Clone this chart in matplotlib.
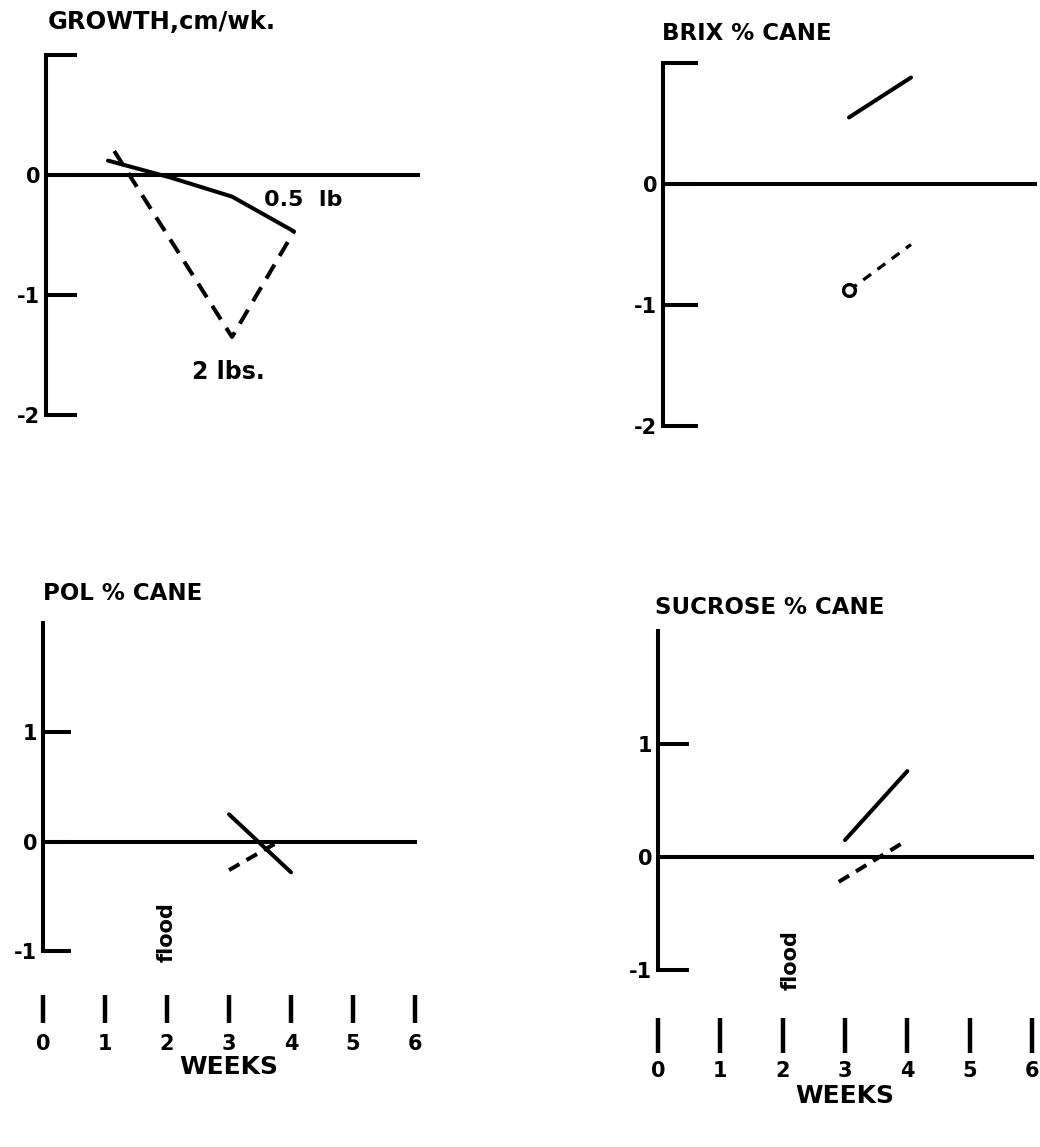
import numpy as np
from matplotlib import pyplot as plt

plt.rcParams['font.family'] = ['DejaVu Sans']
plt.rcParams['font.weight'] = 'bold'

# weeks after flooding
weeks = [0, 1, 2, 3, 4, 5, 6]

# growth, cm/wk
growth_05_x = [1, 2, 3, 4]
growth_05 = [0.12, -0.02, -0.18, -0.47]
growth_2_x = [1.1, 3, 4]
growth_2 = [0.2, -1.35, -0.47]

# brix % cane
brix_05_x = [3, 4]
brix_05 = [0.55, 0.88]
brix_2_x = [3, 4]
brix_2 = [-0.88, -0.5]

# pol % cane
pol_05_x = [3, 4]
pol_05 = [0.25, -0.28]
pol_2_x = [3, 3.8]
pol_2 = [-0.26, 0.0]

# sucrose % cane
suc_05_x = [3, 4]
suc_05 = [0.15, 0.76]
suc_2_x = [2.9, 4]
suc_2 = [-0.22, 0.15]

W, H = 1040, 1147
fig = plt.figure(figsize=(W / 100, H / 100), dpi=100)
LW = 2.9
FS = 14
TITLE_FS = 16.5


def box(x0, x1, ytop, ybot):
    return [x0 / W, 1 - ybot / H, (x1 - x0) / W, (ybot - ytop) / H]


def frame(ax, ylim, ticks, labels, ticklen=22):
    ax.set_xlim(0, 6)
    ax.set_ylim(*ylim)
    ax.patch.set_visible(False)
    for s in ['top', 'right']:
        ax.spines[s].set_visible(False)
    ax.spines['bottom'].set_position(('data', 0))
    ax.spines['left'].set_linewidth(LW)
    ax.spines['bottom'].set_linewidth(LW)
    ax.set_xticks([])
    ax.set_yticks(ticks)
    ax.set_yticklabels(labels)
    ax.tick_params(axis='y', direction='in', length=ticklen, width=LW,
                   labelsize=FS + 1, pad=4)


def ruler(ax, loc, ticklen, pad, labelpad):
    sec = ax.secondary_xaxis(loc)
    for s in sec.spines.values():
        s.set_visible(False)
    sec.set_xticks(weeks)
    sec.set_xticklabels([str(w) for w in weeks])
    sec.tick_params(direction='in', length=ticklen, width=3.2,
                    labelsize=FS + 1, pad=pad)
    sec.set_xlabel('WEEKS', fontsize=18, fontweight='bold', labelpad=labelpad)


def fig_text(x, y, s, size=TITLE_FS):
    fig.text(x / W, 1 - y / H, s, fontsize=size, fontweight='bold',
             ha='left', va='center')


# GROWTH
ax1 = fig.add_axes(box(46, 418, 55, 415))
frame(ax1, (-2, 1), [-2, -1, 0, 1], ['-2', '-1', '0', ''])
ax1.plot(growth_05_x, growth_05, color='black', lw=LW, solid_capstyle='round')
ax1.plot(growth_2_x, growth_2, color='black', lw=LW, dashes=(4, 2.5))
ax1.text(4.15, -0.21, '0.5  lb', fontsize=16, fontweight='bold',
         ha='center', va='center')
ax1.text(2.94, -1.64, '2 lbs.', fontsize=17, fontweight='bold',
         ha='center', va='center')
fig_text(48, 22, 'GROWTH,cm/wk.', size=17.5)

# BRIX
ax2 = fig.add_axes(box(663, 1035, 63, 426))
frame(ax2, (-2, 1), [-2, -1, 0, 1], ['-2', '-1', '0', ''], ticklen=25)
ax2.plot(brix_05_x, brix_05, color='black', lw=LW, solid_capstyle='round')
ax2.plot(brix_2_x, brix_2, color='black', lw=LW * 0.8, dashes=(3, 2.5))
ax2.plot(brix_2_x[:1], brix_2[:1], 'o', ms=8.5, mfc='white', mec='black', mew=2.4)
fig_text(662, 34, 'BRIX % CANE')

# POL
ax3 = fig.add_axes(box(43, 415, 623, 951))
frame(ax3, (-1, 2), [-1, 0, 1], ['-1', '0', '1'], ticklen=20)
ax3.plot(pol_05_x, pol_05, color='black', lw=LW, solid_capstyle='round')
ax3.plot(pol_2_x, pol_2, color='black', lw=LW, dashes=(3, 2))
ax3.text(2.0, -0.83, 'flood', rotation=90, fontsize=15, fontweight='bold',
         ha='center', va='center')
ruler(ax3, -0.2195, 20, 8, 1)
fig_text(43, 593, 'POL % CANE')

# SUCROSE
ax4 = fig.add_axes(box(658, 1032, 631, 970))
frame(ax4, (-1, 2), [-1, 0, 1], ['-1', '0', '1'], ticklen=22)
ax4.plot(suc_05_x, suc_05, color='black', lw=LW, solid_capstyle='round')
ax4.plot(suc_2_x, suc_2, color='black', lw=LW, dashes=(3, 2))
ax4.text(2.12, -0.91, 'flood', rotation=90, fontsize=15, fontweight='bold',
         ha='center', va='center')
ruler(ax4, -0.245, 25, 6, 2)
fig_text(655, 607, 'SUCROSE % CANE')

fig.savefig('out.png', dpi=100)
